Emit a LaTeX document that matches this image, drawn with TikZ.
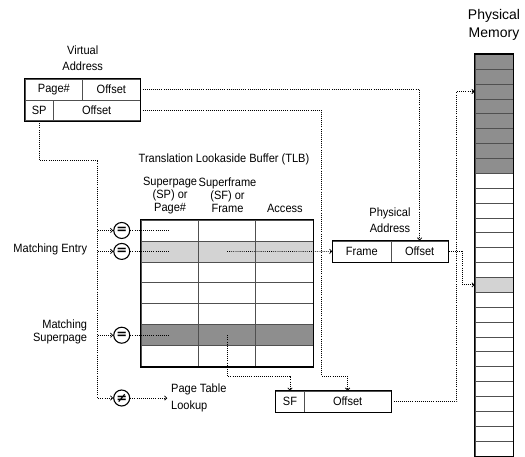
\documentclass[tikz,border=0pt]{standalone}
\usepackage{fontspec}
\setmainfont{Liberation Sans}[FakeStretch=0.92]
\newfontfamily\widefont{Liberation Sans}
\newfontfamily\symfont{DejaVu Sans}
\usetikzlibrary{
    arrows.meta,
    positioning
}
\definecolor{LightShade}{RGB}{211,211,211}
\definecolor{DarkShade}{RGB}{142,142,142}
\definecolor{RuleGray}{RGB}{80,80,80}

\begin{document}
\begin{tikzpicture}[
    x=1pt, y=-1pt,
    >={Straight Barb[length=2.2pt,width=4.4pt,line width=0.8pt]},
    caption/.style={font=\fontsize{12}{13}\selectfont, align=center, inner sep=0pt},
    cell/.style={draw=RuleGray, line width=0.8pt, inner sep=0pt,
        font=\fontsize{12}{13}\selectfont, minimum height=20.8pt},
    tlbcell/.style={cell, minimum width=57.4pt, minimum height=20.95pt},
    memcell/.style={draw=RuleGray, line width=0.8pt, inner sep=0pt,
        minimum width=38.3pt, minimum height=14.875pt},
    rim/.style={draw=black, line width=1.2pt},
    cmp/.style={circle, draw=black, line width=1.1pt, minimum size=16pt,
        inner sep=0pt, fill=white, font=\symfont\bfseries\fontsize{13}{13}\selectfont},
    wire/.style={line width=0.8pt, dash pattern=on 0.8pt off 1.3pt}
]
\useasboundingbox (0,0) rectangle (525,456);

% virtual address
\node[caption, font=\fontsize{12}{16.5}\selectfont] (vlabel) at (82.7,58) {Virtual\\Address};
\node[cell, minimum width=57.7pt] (vpage) at (53.85,89.65) {Page\#};
\node[cell, minimum width=57.3pt] (voff1) at (111.35,89.65) {Offset};
\node[cell, minimum width=28.3pt] (vsp) at (39.15,110.35) {SP};
\node[cell, minimum width=86.7pt] (voff2) at (96.65,110.35) {Offset};
\draw[rim] (vpage.north west) rectangle (voff2.south east);

% TLB
\node[caption] (tlbtitle) at (224,159) {Translation Lookaside Buffer (TLB)};
\node[caption] (hsp) at (170.1,195.5) {Superpage\\(SP) or\\Page\#};
\node[caption] (hsf) at (227.5,195) {Superframe\\(SF) or\\Frame};
\node[caption] (hacc) at (284.9,208) {Access};

\foreach \r in {1,...,7}{
    \foreach \c in {1,2,3}{
        \ifnum\r=2 \def\tint{LightShade}\else
        \ifnum\r=6 \def\tint{DarkShade}\else
        \def\tint{white}\fi\fi
        \node[tlbcell, fill=\tint] (tlb\r\c)
            at ({141+57.4*(\c-0.5)},{220+20.95*(\r-0.5)}) {};
    }
}
\draw[rim] (tlb11.north west) rectangle (tlb73.south east);

% comparators
\node[cmp, left=10.3pt of tlb11] (eq1) {=};
\node[cmp, left=10.3pt of tlb21] (eq2) {=};
\node[cmp, left=10.3pt of tlb61] (eq3) {=};
\node[cmp] (neq) at (121.7,398) {≠};

\node[caption, anchor=east] (entry) at (87.3,249.2) {Matching Entry};
\node[caption, anchor=east, align=right, font=\fontsize{12}{12.3}\selectfont]
    (super) at (87.3,332) {Matching\\Superpage};
\node[caption, inner sep=3.7pt, align=left, font=\fontsize{12}{17.3}\selectfont,
    right=37pt of neq] (lookup) {Page Table\\Lookup};

% physical address
\node[caption, font=\fontsize{12}{16}\selectfont] (plabel) at (390,220) {Physical\\Address};
\node[cell, minimum width=58.3pt, minimum height=21pt] (pframe) at (361.85,251.4) {Frame};
\node[cell, minimum width=57.3pt, minimum height=21pt] (poff) at (419.65,251.4) {Offset};
\draw[rim] (pframe.north west) rectangle (poff.south east);

% superframe address
\node[cell, minimum width=28.6pt, minimum height=21.3pt] (sfsf) at (290,401.7) {SF};
\node[cell, minimum width=86.7pt, minimum height=21.3pt] (sfoff) at (347.65,401.7) {Offset};
\draw[rim] (sfsf.north west) rectangle (sfoff.south east);

% physical memory
\node[caption, font=\widefont\fontsize{14}{18}\selectfont] (mlabel) at (494,25.3) {Physical\\Memory};
\foreach \i in {0,...,26}{
    \ifnum\i<8 \def\tint{DarkShade}\else
    \ifnum\i=15 \def\tint{LightShade}\else
    \def\tint{white}\fi\fi
    \node[memcell, fill=\tint] (mem\i) at (494.15,{61.74+14.875*\i}) {};
}
\draw[rim] (mem0.north west) rectangle (mem26.south east);

% connectors
\coordinate (trunk) at (97.7,160);
\coordinate (bend) at (321.7,376);
\coordinate (riseA) at (456.7,0);
\coordinate (riseB) at (462,0);

\draw[wire, ->] (vsp.south) |- (trunk) |- (neq.west);
\draw[wire, ->] (trunk |- eq1) -- (eq1.west);
\draw[wire, ->] (trunk |- eq2) -- (eq2.west);
\draw[wire, ->] (trunk |- eq3) -- (eq3.west);
\draw[wire, ->] (neq.east) -- (lookup.west);

\draw[wire] (eq1.east) -- (tlb11.center);
\draw[wire] (eq2.east) -- (tlb21.center);
\draw[wire] (eq3.east) -- (tlb61.center);

\draw[wire, ->] (voff1.east) -| (poff.north);
\draw[wire, ->] (voff2.east) -| (bend) -| (sfoff.north);
\draw[wire, ->] (tlb22.center) -- (pframe.west);
\draw[wire, ->] (tlb62.center) |- (bend -| sfsf) -- (sfsf.north);
\draw[wire, ->] (sfoff.east) -| (riseA |- mem2) -- (mem2.west);
\draw[wire, ->] (poff.east) -| (riseB |- mem15) -- (mem15.west);

\end{tikzpicture}
\end{document}
